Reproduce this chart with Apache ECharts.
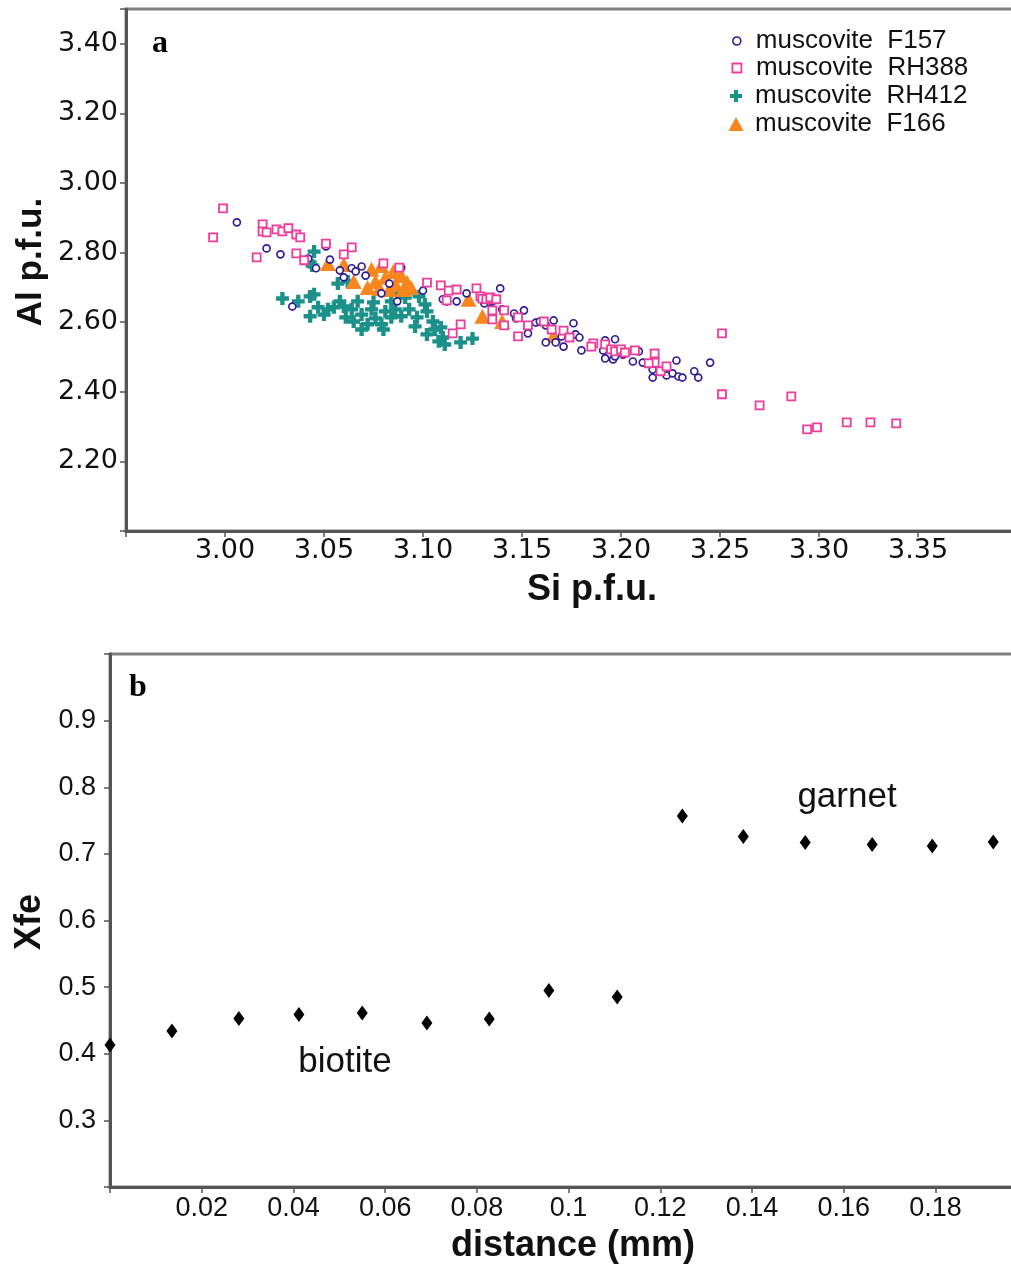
<!DOCTYPE html>
<html>
<head>
<meta charset="utf-8">
<script src="https://cdn.jsdelivr.net/npm/echarts@6/dist/echarts.min.js"></script>
<style>
  html, body { margin: 0; padding: 0; background: #fff; }
  #chart { width: 1011px; height: 1264px; }
</style>
</head>
<body>
<div id="chart"></div>
<script>
// Panel a: muscovite analyses, [Si p.f.u., Al p.f.u.]
const f157 = [
  [3.006,2.887],[3.021,2.812],[3.028,2.795],[3.034,2.645],[3.042,2.783],[3.046,2.755],
  [3.053,2.780],[3.051,2.818],[3.058,2.749],[3.060,2.729],[3.064,2.755],[3.066,2.746],
  [3.069,2.760],[3.071,2.734],[3.083,2.711],[3.079,2.683],[3.087,2.660],[3.089,2.757],
  [3.100,2.691],[3.110,2.666],[3.112,2.660],[3.117,2.660],[3.122,2.683],[3.139,2.697],
  [3.131,2.654],[3.134,2.657],[3.135,2.660],[3.140,2.637],[3.146,2.625],[3.147,2.611],
  [3.151,2.634],[3.153,2.568],[3.157,2.599],[3.159,2.602],[3.162,2.591],[3.166,2.605],
  [3.162,2.542],[3.167,2.542],[3.171,2.530],[3.170,2.559],[3.176,2.597],[3.177,2.565],
  [3.180,2.519],[3.179,2.556],[3.192,2.548],[3.197,2.551],[3.191,2.519],[3.192,2.496],
  [3.196,2.493],[3.197,2.502],[3.201,2.507],[3.206,2.487],[3.211,2.484],[3.209,2.516],
  [3.216,2.464],[3.216,2.441],[3.223,2.447],[3.226,2.453],[3.229,2.444],[3.231,2.441],
  [3.228,2.490],[3.237,2.459],[3.239,2.441],[3.245,2.484]
];
const rh388 = [
  [2.994,2.844],[2.999,2.927],[3.019,2.881],[3.019,2.861],[3.021,2.858],[3.026,2.867],
  [3.029,2.861],[3.032,2.870],[3.036,2.852],[3.038,2.844],[3.016,2.786],[3.036,2.798],
  [3.040,2.778],[3.051,2.826],[3.064,2.815],[3.060,2.795],[3.080,2.769],[3.088,2.757],
  [3.102,2.714],[3.109,2.706],[3.113,2.691],[3.112,2.663],[3.117,2.694],[3.115,2.568],
  [3.119,2.594],[3.127,2.697],[3.129,2.674],[3.130,2.668],[3.132,2.666],[3.134,2.671],
  [3.137,2.666],[3.135,2.634],[3.141,2.634],[3.135,2.608],[3.141,2.591],[3.148,2.559],
  [3.148,2.614],[3.153,2.591],[3.161,2.602],[3.165,2.579],[3.171,2.576],[3.174,2.556],
  [3.186,2.539],[3.185,2.530],[3.192,2.536],[3.195,2.522],[3.197,2.516],[3.200,2.522],
  [3.202,2.513],[3.207,2.519],[3.217,2.510],[3.217,2.484],[3.214,2.482],[3.220,2.459],
  [3.223,2.473],[3.251,2.568],[3.251,2.393],[3.270,2.361],[3.286,2.387],[3.294,2.292],
  [3.299,2.298],[3.314,2.312],[3.326,2.312],[3.339,2.309]
];
const rh412 = [
  [3.029,2.668],[3.037,2.660],[3.043,2.674],[3.045,2.680],[3.047,2.643],[3.043,2.617],
  [3.045,2.803],[3.043,2.772],[3.044,2.763],[3.057,2.711],[3.062,2.717],[3.052,2.637],
  [3.055,2.643],[3.058,2.660],[3.060,2.645],[3.064,2.637],[3.067,2.660],[3.069,2.622],
  [3.074,2.637],[3.076,2.611],[3.072,2.594],[3.079,2.594],[3.081,2.631],[3.084,2.614],
  [3.086,2.637],[3.089,2.617],[3.084,2.660],[3.091,2.671],[3.087,2.680],[3.101,2.651],
  [3.102,2.631],[3.105,2.602],[3.106,2.579],[3.109,2.585],[3.110,2.556],[3.097,2.614],
  [3.096,2.588],[3.102,2.565],[3.111,2.536],[3.119,2.542],[3.125,2.553],[3.065,2.602],
  [3.069,2.579],[3.061,2.614],[3.050,2.622],[3.075,2.657],[3.080,2.579],[3.093,2.637],
  [3.098,2.674],[3.108,2.545]
];
const f166 = [
  [3.052,2.769],[3.060,2.766],[3.065,2.717],[3.074,2.752],[3.072,2.700],[3.076,2.717],
  [3.079,2.763],[3.081,2.729],[3.083,2.694],[3.085,2.746],[3.086,2.709],[3.089,2.734],
  [3.090,2.694],[3.092,2.714],[3.094,2.700],[3.078,2.697],[3.123,2.666],[3.130,2.617],
  [3.140,2.602],[3.166,2.562]
];

// Panel b: Xfe profile across the biotite / garnet contact
const distance = [0, 0.0135, 0.0281, 0.0412, 0.0550, 0.0691, 0.0827, 0.0957, 0.1106,
                  0.1248, 0.1381, 0.1516, 0.1662, 0.1793, 0.1926];
const xfe = [0.413, 0.434, 0.453, 0.459, 0.461, 0.446, 0.452, 0.495, 0.485,
             0.757, 0.726, 0.717, 0.714, 0.712, 0.718];

const seriesNames = ['muscovite  F157', 'muscovite  RH388', 'muscovite  RH412', 'muscovite  F166'];
const colors = { f157: '#2e1f98', rh388: '#ef3c99', rh412: '#1b918a', f166: '#f7861f' };
const crossPath = 'path://M4,0H8V4H12V8H8V12H4V8H0V4H4Z';

const chart = echarts.init(document.getElementById('chart'), null, { renderer: 'canvas' });

const axisLine = { show: true, onZero: false, lineStyle: { color: '#555', width: 3 } };
const tick = { show: true, length: 6, lineStyle: { color: '#555', width: 1.5 } };
const sansA = 'DejaVu Sans';
const sansB = '"Liberation Sans", Arial, sans-serif';

function legendRow(name, icon, w, h, centerY, style) {
  const textH = 26;
  return {
    data: [{ name: name, icon: icon }],
    orient: 'vertical',
    left: 736 - w / 2,
    top: centerY - textH / 2,
    padding: 0,
    itemWidth: w,
    itemHeight: h,
    itemStyle: style,
    selectedMode: false,
    textStyle: {
      fontFamily: sansB, fontSize: 26, color: '#111',
      lineHeight: textH, padding: [0, 0, 0, 14 - w / 2]
    }
  };
}

const option = {
  animation: false,
  backgroundColor: '#fff',
  grid: [
    // both plot frames run past the right edge of the page
    { left: 126, top: 9, width: 892, height: 522, outerBoundsMode: 'none', containLabel: false,
      show: true, borderColor: '#808080', borderWidth: 3 },
    { left: 110, top: 654, width: 908, height: 533, outerBoundsMode: 'none', containLabel: false,
      show: true, borderColor: '#808080', borderWidth: 3 }
  ],
  xAxis: [
    {
      type: 'value', gridIndex: 0, min: 2.95, max: 3.4005, interval: 0.05,
      axisLine: axisLine, axisTick: tick, splitLine: { show: false },
      axisLabel: {
        fontFamily: sansA, fontSize: 27, color: '#111', margin: 6,
        formatter: v => (v < 2.99 || v > 3.37) ? '' : v.toFixed(2)
      }
    },
    {
      type: 'value', gridIndex: 1, min: 0, max: 0.198, interval: 0.02,
      axisLine: axisLine, axisTick: tick, splitLine: { show: false },
      axisLabel: {
        fontFamily: sansB, fontSize: 27, color: '#111', margin: 8,
        formatter: v => (v < 0.01 || v > 0.19) ? '' : String(+v.toFixed(2))
      }
    }
  ],
  yAxis: [
    {
      type: 'value', gridIndex: 0, min: 2.0, max: 3.5, interval: 0.2,
      axisLine: axisLine, axisTick: tick, splitLine: { show: false },
      axisLabel: {
        fontFamily: sansA, fontSize: 27, color: '#111', margin: 8,
        formatter: v => (v < 2.1 || v > 3.45) ? '' : v.toFixed(2)
      }
    },
    {
      type: 'value', gridIndex: 1, min: 0.2, max: 1.0, interval: 0.1,
      axisLine: axisLine, axisTick: tick, splitLine: { show: false },
      axisLabel: {
        fontFamily: sansB, fontSize: 27, color: '#111', margin: 14,
        formatter: v => (v < 0.25 || v > 0.95) ? '' : v.toFixed(1)
      }
    }
  ],
  legend: [
    legendRow(seriesNames[0], 'circle', 8, 8, 41, { color: '#fff', borderColor: colors.f157, borderWidth: 1.6 }),
    legendRow(seriesNames[1], 'rect', 9, 9, 68, { color: '#fff', borderColor: colors.rh388, borderWidth: 1.8 }),
    legendRow(seriesNames[2], crossPath, 12, 12, 96, { color: colors.rh412 }),
    legendRow(seriesNames[3], 'triangle', 15, 14, 124, { color: colors.f166 })
  ],
  series: [
    {
      name: seriesNames[2], type: 'scatter', xAxisIndex: 0, yAxisIndex: 0,
      data: rh412, symbol: crossPath, symbolSize: 13,
      itemStyle: { color: colors.rh412, opacity: 1 }, z: 2
    },
    {
      name: seriesNames[3], type: 'scatter', xAxisIndex: 0, yAxisIndex: 0,
      data: f166, symbol: 'triangle', symbolSize: [16, 15],
      itemStyle: { color: colors.f166, opacity: 1 }, z: 3
    },
    {
      name: seriesNames[0], type: 'scatter', xAxisIndex: 0, yAxisIndex: 0,
      data: f157, symbol: 'circle', symbolSize: 7,
      itemStyle: { color: '#fff', borderColor: colors.f157, borderWidth: 1.7, opacity: 1 }, z: 4
    },
    {
      name: seriesNames[1], type: 'scatter', xAxisIndex: 0, yAxisIndex: 0,
      data: rh388, symbol: 'rect', symbolSize: 8,
      itemStyle: { color: '#fff', borderColor: colors.rh388, borderWidth: 1.8, opacity: 1 }, z: 5
    },
    {
      name: 'Xfe', type: 'scatter', xAxisIndex: 1, yAxisIndex: 1,
      data: distance.map((d, i) => [d, xfe[i]]),
      symbol: 'diamond', symbolSize: [11, 15], clip: false,
      itemStyle: { color: '#000', opacity: 1 }, z: 3
    }
  ],
  graphic: [
    { type: 'text', x: 31, y: 262, rotation: Math.PI / 2,
      style: { text: 'Al p.f.u.', font: 'bold 35px "Liberation Sans", Arial', fill: '#111', align: 'center', verticalAlign: 'middle' } },
    { type: 'text', x: 592, y: 590,
      style: { text: 'Si p.f.u.', font: 'bold 36px "Liberation Sans", Arial', fill: '#111', align: 'center', verticalAlign: 'middle' } },
    { type: 'text', x: 30, y: 922, rotation: Math.PI / 2,
      style: { text: 'Xfe', font: 'bold 36px "Liberation Sans", Arial', fill: '#111', align: 'center', verticalAlign: 'middle' } },
    { type: 'text', x: 573, y: 1246,
      style: { text: 'distance (mm)', font: 'bold 36px "Liberation Sans", Arial', fill: '#111', align: 'center', verticalAlign: 'middle' } },
    { type: 'text', x: 160, y: 44,
      style: { text: 'a', font: 'bold 32px "Liberation Serif", serif', fill: '#000', align: 'center', verticalAlign: 'middle' } },
    { type: 'text', x: 138, y: 688,
      style: { text: 'b', font: 'bold 32px "Liberation Serif", serif', fill: '#000', align: 'center', verticalAlign: 'middle' } },
    { type: 'text', x: 847, y: 797,
      style: { text: 'garnet', font: '35px "Liberation Sans", Arial', fill: '#111', align: 'center', verticalAlign: 'middle' } },
    { type: 'text', x: 345, y: 1062,
      style: { text: 'biotite', font: '35px "Liberation Sans", Arial', fill: '#111', align: 'center', verticalAlign: 'middle' } }
  ]
};

chart.setOption(option);
</script>
</body>
</html>
